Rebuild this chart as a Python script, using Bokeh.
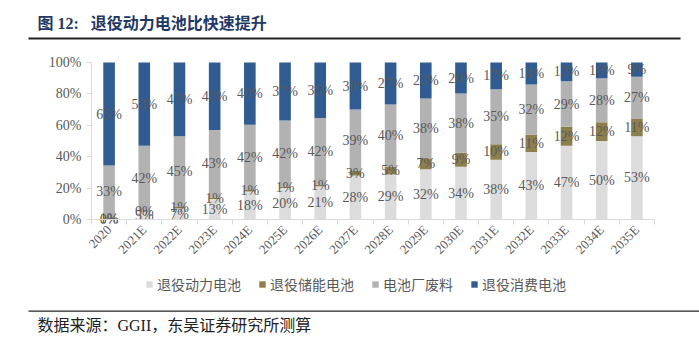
import math
from bokeh.plotting import figure
from bokeh.models import (Range1d, LinearAxis, FixedTicker, ColumnDataSource, Label, Legend,
                          LegendItem, BoxAnnotation)
from bokeh.core.properties import value
from bokeh.embed import file_html
from bokeh.resources import INLINE

years = ["2020", "2021E", "2022E", "2023E", "2024E", "2025E", "2026E", "2027E",
         "2028E", "2029E", "2030E", "2031E", "2032E", "2033E", "2034E", "2035E"]
power = [0, 5, 7, 13, 18, 20, 21, 28, 29, 32, 34, 38, 43, 47, 50, 53]
storage = [1, 0, 1, 1, 1, 1, 1, 3, 5, 7, 9, 10, 11, 12, 12, 11]
scrap = [33, 42, 45, 43, 42, 42, 42, 39, 40, 38, 38, 35, 32, 29, 28, 27]
consumer = [65, 53, 47, 43, 40, 37, 35, 30, 27, 23, 20, 17, 14, 12, 10, 9]
series_names = ["退役动力电池", "退役储能电池", "电池厂废料", "退役消费电池"]
colors = ["#DCDCDC", "#8D7F4D", "#B2B2B2", "#305C91"]
y_ticks = [0, 20, 40, 60, 80, 100]
title_text = "图 12:\u00a0\u00a0\u00a0退役动力电池比快速提升"
source_text = "数据来源：GGII，东吴证券研究所测算"

SERIF = "Liberation Serif"
CJK = "Noto Sans CJK SC"
MIXED = "Liberation Serif, Noto Sans CJK SC"
GREY = "#595959"

# canvas layout (pixels)
W, H = 699, 341
PL, PR, PT, PB = 91, 654, 62, 219          # plot area edges
n = len(years)
ux = (PR - PL) / n                          # px per category
uy = (PB - PT) / 100.0                      # px per percent

series = [power, storage, scrap, consumer]
keys = ["s0", "s1", "s2", "s3"]
totals = [sum(v) for v in zip(*series)]
xs = [i + 0.5 for i in range(n)]
data = {"x": xs}
for k, s in zip(keys, series):
    data[k] = [v / t * 100 for v, t in zip(s, totals)]
src = ColumnDataSource(data)

p = figure(width=W, height=H,
           x_range=Range1d(-PL / ux, n + (W - PR) / ux),
           y_range=Range1d(-(H - PB) / uy, 100 + PT / uy),
           output_backend="svg", toolbar_location=None,
           x_axis_location=None, y_axis_location=None,
           min_border_left=0, min_border_right=0, min_border_top=0, min_border_bottom=0)
p.outline_line_color = None
p.grid.visible = False
p.background_fill_color = "white"
p.border_fill_color = "white"

rs = p.vbar_stack(keys, x="x", width=0.33, source=src, color=colors, line_color=None)

# data labels at segment centres
base = [0.0] * n
for k, s in zip(keys, series):
    h = data[k]
    ys = [b + v / 2 for b, v in zip(base, h)]
    base = [b + v for b, v in zip(base, h)]
    lsrc = ColumnDataSource(dict(x=xs, y=ys, t=[f"{v}%" for v in s]))
    p.text(x="x", y="y", text="t", source=lsrc, text_align="center", text_baseline="middle",
           text_font=value(SERIF), text_font_size="14px", text_color=GREY)

# y axis
ya = LinearAxis(fixed_location=0, bounds=(0, 100), ticker=FixedTicker(ticks=y_ticks),
                major_label_overrides={t: f"{t}%" for t in y_ticks},
                axis_line_color="#D9D9D9", major_tick_line_color="#D9D9D9",
                major_tick_in=0, major_tick_out=5, minor_tick_line_color=None,
                major_label_standoff=5, major_label_text_font=SERIF,
                major_label_text_font_size="14px", major_label_text_color=GREY)
p.add_layout(ya, "left")

# x axis line with ticks at category boundaries
tick_axis = LinearAxis(fixed_location=0, bounds=(0, n), ticker=FixedTicker(ticks=list(range(n + 1))),
                       axis_line_color="#D9D9D9", major_tick_line_color="#D9D9D9",
                       major_tick_in=0, major_tick_out=5, minor_tick_line_color=None,
                       major_label_text_font_size="0px", major_label_text_alpha=0,
                       major_label_standoff=0)
p.add_layout(tick_axis, "below")
# category labels
cat_axis = LinearAxis(fixed_location=0, ticker=FixedTicker(ticks=xs),
                      major_label_overrides={x: y for x, y in zip(xs, years)},
                      axis_line_color=None, major_tick_line_color=None, minor_tick_line_color=None,
                      major_tick_in=0, major_tick_out=0,
                      major_label_orientation=math.pi / 4, major_label_standoff=8,
                      major_label_text_font=SERIF, major_label_text_font_size="13px",
                      major_label_text_color=GREY)
p.add_layout(cat_axis, "below")

# legend
legend = Legend(items=[LegendItem(label=nm, renderers=[r]) for nm, r in zip(series_names, rs)],
                orientation="horizontal", location=(145, H - 294), padding=0, margin=0,
                spacing=17, label_standoff=4, glyph_width=8, glyph_height=8,
                label_text_font=CJK, label_text_font_size="14px", label_text_color=GREY,
                background_fill_alpha=0, border_line_color=None)
p.add_layout(legend, "center")

# title, rules and source
p.add_layout(Label(x=37, y=H - 23, x_units="screen", y_units="screen", text=title_text,
                   text_font=MIXED, text_font_style="bold", text_font_size="16px",
                   text_color="#1F3864", text_baseline="middle"))
p.add_layout(BoxAnnotation(left=28, right=680, top=H - 37, bottom=H - 39,
                           left_units="screen", right_units="screen", top_units="screen",
                           bottom_units="screen", fill_color="#222222", fill_alpha=1,
                           line_color=None, level="overlay"))
p.add_layout(BoxAnnotation(left=28, right=W, top=H - 310, bottom=H - 311.3,
                           left_units="screen", right_units="screen", top_units="screen",
                           bottom_units="screen", fill_color="#222222", fill_alpha=1,
                           line_color=None, level="overlay"))
p.add_layout(Label(x=37, y=H - 325, x_units="screen", y_units="screen", text=source_text,
                   text_font=MIXED, text_font_size="16px", text_color="#222222",
                   text_baseline="middle"))

open("out.html", "w").write(file_html(p, INLINE))
